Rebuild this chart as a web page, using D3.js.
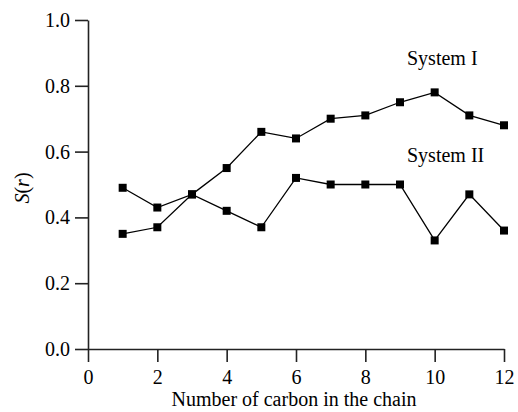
<!DOCTYPE html>
<html>
<head>
<meta charset="utf-8">
<script src="https://cdn.jsdelivr.net/npm/d3@7"></script>
<style>
  body { margin: 0; background: #fff; }
  svg text { font-family: "Liberation Serif", "Times New Roman", serif; fill: #000; }
</style>
</head>
<body>
<svg id="chart" width="518" height="412"></svg>
<script>
// carbon count on x, S(r) on y
const carbons = [1, 2, 3, 4, 5, 6, 7, 8, 9, 10, 11, 12]
const systemI = [0.35, 0.37, 0.47, 0.55, 0.66, 0.64, 0.70, 0.71, 0.75, 0.78, 0.71, 0.68]
const systemII = [0.49, 0.43, 0.47, 0.42, 0.37, 0.52, 0.50, 0.50, 0.50, 0.33, 0.47, 0.36]
const xTicks = [0, 2, 4, 6, 8, 10, 12]
const yTicks = [0, 0.2, 0.4, 0.6, 0.8, 1.0]

const svg = d3.select('#chart')

const x = d3.scaleLinear().domain([0, 12]).range([88, 504])
const y = d3.scaleLinear().domain([0, 1]).range([349, 20])

const axisStyle = g => {
  g.selectAll('path, line').attr('stroke', '#222').attr('stroke-width', 1.6)
  g.selectAll('text').style('font-size', '20px').style('font-family', '"Liberation Serif", serif')
}

svg.append('g')
  .attr('transform', `translate(0,${y(0)})`)
  .call(d3.axisBottom(x).tickValues(xTicks).tickSize(13).tickSizeOuter(0).tickPadding(8))
  .call(axisStyle)

svg.append('g')
  .attr('transform', `translate(${x(0)},0)`)
  .call(d3.axisLeft(y).tickValues(yTicks).tickFormat(d3.format('.1f')).tickSize(13).tickSizeOuter(0).tickPadding(5))
  .call(axisStyle)

const line = d3.line().x((d, i) => x(carbons[i])).y(d => y(d))

const drawSeries = values => {
  svg.append('path')
    .datum(values)
    .attr('d', line)
    .attr('fill', 'none')
    .attr('stroke', '#000')
    .attr('stroke-width', 1.3)
  svg.append('g')
    .selectAll('rect')
    .data(values)
    .enter()
    .append('rect')
    .attr('x', (d, i) => x(carbons[i]) - 4)
    .attr('y', d => y(d) - 4)
    .attr('width', 8)
    .attr('height', 8)
    .attr('fill', '#000')
}

drawSeries(systemI)
drawSeries(systemII)

svg.append('text').attr('x', 407).attr('y', 65).style('font-size', '20px').text('System I')
svg.append('text').attr('x', 407).attr('y', 162).style('font-size', '20px').text('System II')

svg.append('text')
  .attr('x', (x(0) + x(12)) / 2 - 2)
  .attr('y', 406)
  .attr('text-anchor', 'middle')
  .style('font-size', '20px')
  .text('Number of carbon in the chain')

const yLabel = svg.append('text')
  .attr('transform', 'translate(29,188) rotate(-90)')
  .attr('text-anchor', 'middle')
  .style('font-size', '20px')
yLabel.append('tspan').style('font-style', 'italic').text('S')
yLabel.append('tspan').text('(')
yLabel.append('tspan').style('font-style', 'italic').text('r')
yLabel.append('tspan').text(')')
</script>
</body>
</html>
